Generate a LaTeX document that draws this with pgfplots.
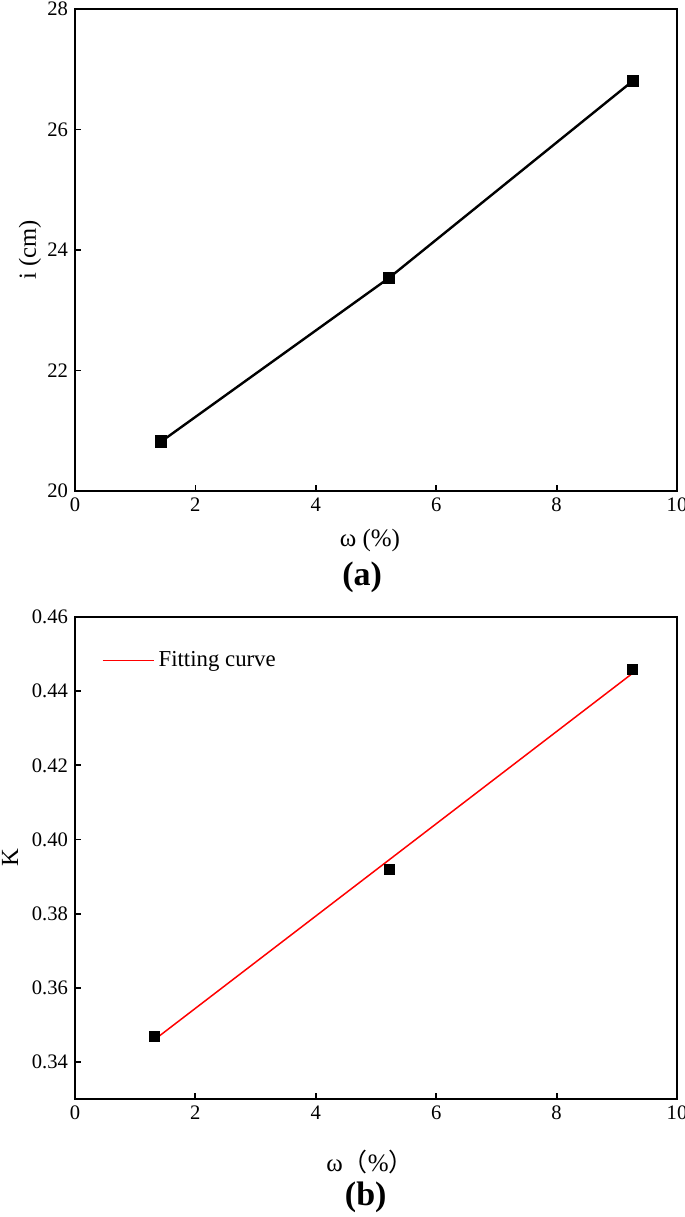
\documentclass[border=0pt]{standalone}
\usepackage{pgfplots}
\pgfplotsset{compat=1.18}
\usepackage{fontspec}
\setmainfont{Liberation Serif}
\newfontfamily\cjk{Noto Sans CJK SC}

% 1 px of the reference = 0.5pt
\pgfplotsset{
  panel/.style={
    width=301pt, height=241pt, scale only axis,
    xmin=0, xmax=10, xtick={0,2,4,6,8,10},
    tick pos=left, tick align=inside,
    major tick length=3pt,
    axis line style={line width=1pt},
    every tick/.style={line width=0.9pt, black},
    tick label style={font=\fontsize{10.3}{12}\selectfont},
    /pgf/number format/assume math mode=true,
    clip=false,
  },
}

\begin{document}
\begin{tikzpicture}
\path[use as bounding box] (0,0) rectangle (342.5pt,-608.5pt);

% ---------- (a) ----------
\begin{axis}[panel,
  at={(37.5pt,-245.5pt)}, anchor=south west,
  ymin=20, ymax=28, ytick={20,22,24,26,28},
]
\addplot[black, line width=1.2pt, mark=square*, mark size=2.5pt,
         mark options={solid, fill=black}] coordinates {
  (1.43,20.82)(5.22,23.54)(9.27,26.81)
};
\node[font=\fontsize{12.5}{14}\selectfont] at (axis description cs:0.49,-0.102) {ω (\%)};
\node[font=\fontsize{17}{19}\selectfont\bfseries] at (axis description cs:0.477,-0.18) {(a)};
\node[font=\fontsize{12.3}{14}\selectfont, rotate=90] at (axis description cs:-0.075,0.5) {i (cm)};
\end{axis}

% ---------- (b) ----------
\begin{axis}[panel,
  at={(37.5pt,-549.5pt)}, anchor=south west,
  ymin=0.33, ymax=0.46, ytick={0.34,0.36,0.38,0.40,0.42,0.44,0.46},
  yticklabel style={/pgf/number format/.cd, fixed, fixed zerofill, precision=2},
  legend style={at={(axis description cs:0.044,0.91)}, anchor=west,
    draw=none, fill=none, font=\fontsize{11.4}{13}\selectfont,
    inner sep=0pt},
  legend image code/.code={\draw[#1] (0cm,0cm) -- (0.9cm,0cm);},
]
\addplot[only marks, mark=square*, mark size=2.5pt, black, forget plot] coordinates {
  (1.32,0.3468)(5.23,0.3920)(9.26,0.4459)
};
\addplot[red, line width=0.75pt] coordinates {
  (1.32,0.3460)(9.26,0.4448)
};
\addlegendentry{Fitting curve}
\node[font=\fontsize{12.5}{14}\selectfont] at (axis description cs:0.49,-0.130) {ω{\cjk （}\%{\cjk ）}};
\node[font=\fontsize{17}{19}\selectfont\bfseries] at (axis description cs:0.483,-0.203) {(b)};
\node[font=\fontsize{12.3}{14}\selectfont, rotate=90] at (axis description cs:-0.108,0.5) {K};
\end{axis}
\end{tikzpicture}
\end{document}
